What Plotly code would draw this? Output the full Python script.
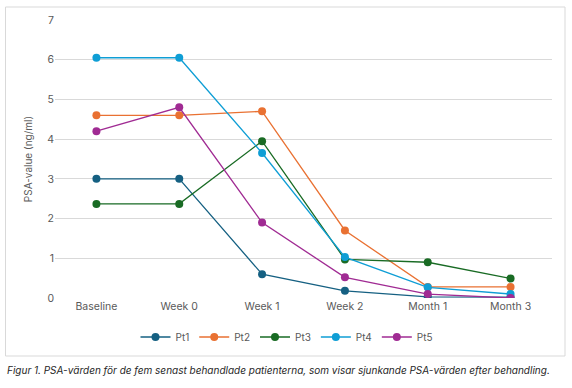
import plotly.graph_objects as go

categories = ["Baseline", "Week 0", "Week 1", "Week 2", "Month 1", "Month 3"]
series_names = ["Pt1", "Pt2", "Pt3", "Pt4", "Pt5"]
pt1 = [3.0, 3.0, 0.6, 0.18, 0.03, 0.02]
pt2 = [4.6, 4.6, 4.7, 1.7, 0.28, 0.28]
pt3 = [2.37, 2.37, 3.95, 0.97, 0.9, 0.49]
pt4 = [6.05, 6.05, 3.65, 1.03, 0.27, 0.1]
pt5 = [4.2, 4.8, 1.9, 0.52, 0.1, 0.0]
colors = ["#156082", "#E97132", "#196B24", "#0F9ED5", "#A02B93"]
y_ticks = [0, 1, 2, 3, 4, 5, 6, 7]
y_title = "PSA-value (ng/ml)"
caption = "Figur 1. PSA-värden för de fem senast behandlade patienterna, som visar sjunkande PSA-värden efter behandling."

fig = go.Figure()
for name, vals, c in zip(series_names, [pt1, pt2, pt3, pt4, pt5], colors):
    fig.add_trace(go.Scatter(x=categories, y=vals, name=name, mode="lines+markers",
                             line=dict(color=c, width=1.3),
                             marker=dict(color=c, size=8)))

L, R, T, B = 55, 20, 20, 90
W, H = 572, 388
pw, ph = W - L - R, H - T - B

def px(x):
    return (x - L) / pw

def py(y):
    return (H - B - y) / ph

fig.add_shape(type="rect", xref="paper", yref="paper",
              x0=px(5.5), x1=px(565), y0=py(356), y1=py(7),
              line=dict(color="#d9d9d9", width=1), layer="below")

fig.add_annotation(text=caption, xref="paper", yref="paper", x=px(5), y=py(370),
                   xanchor="left", yanchor="middle", showarrow=False,
                   font=dict(family="Inter, Noto Sans, sans-serif", size=10, color="#262626", style="italic"))

fig.update_layout(
    width=W, height=H,
    margin=dict(l=L, r=R, t=T, b=B, autoexpand=False),
    paper_bgcolor="white", plot_bgcolor="white",
    font=dict(family="Inter, Noto Sans, sans-serif", size=10, color="#595959"),
    showlegend=True,
    legend=dict(orientation="h", x=px(287), xanchor="center", y=py(337), yanchor="middle",
                font=dict(size=10, color="#595959"), itemwidth=30, tracegroupgap=0),
    xaxis=dict(type="category", range=[-0.5, 5.5], showgrid=False, zeroline=False,
               showline=False, ticks="", automargin=False,
               tickfont=dict(size=10.5, color="#595959")),
    yaxis=dict(range=[0, 7], tickvals=y_ticks, showgrid=True, gridcolor="#d9d9d9",
               gridwidth=1, zeroline=False, showline=False, ticks="", automargin=False,
               tickfont=dict(size=10.5, color="#595959"),
               title=dict(text=y_title, font=dict(size=10, color="#595959"), standoff=12)),
)

fig.write_html("out.html", post_script="document.body.style.margin='0';",
               config={"displayModeBar": False})
